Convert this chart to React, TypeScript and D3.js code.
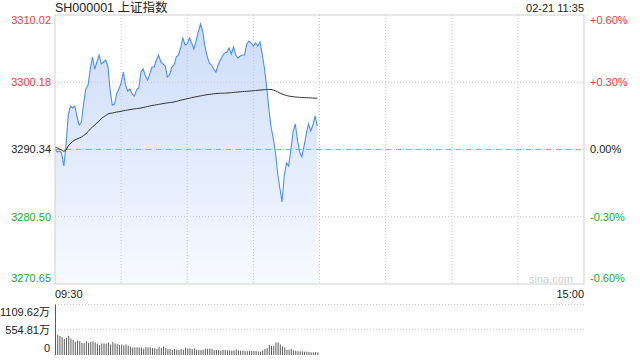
import React from "react";
import * as d3 from "d3";

const title = "SH000001 上证指数";
const stamp = "02-21 11:35";
const prevClose = 3290.34;
const priceTicks = [3310.02, 3300.18, 3290.34, 3280.5, 3270.65];
const pctTicks = ["+0.60%", "+0.30%", "0.00%", "-0.30%", "-0.60%"];
const timeLabels = ["09:30", "15:00"];
const volTicks = [1109.62, 554.81, 0];
const volLabels = ["1109.62万", "554.81万", "0"];

const price = [
  3290.41, 3289.97, 3290.12, 3289.82, 3287.92, 3290.99, 3295.38, 3296.7, 3296.41, 3296.7,
  3295.09, 3293.92, 3294.36, 3297.14, 3299.19, 3299.77, 3302.12, 3303.87, 3302.12, 3303.14,
  3304.17, 3302.85, 3303.14, 3303.43, 3302.56, 3299.04, 3296.85, 3296.99, 3298.46, 3299.19,
  3300.07, 3301.68, 3299.77, 3298.9, 3299.19, 3298.46, 3298.16, 3299.04, 3299.34, 3301.68,
  3302.12, 3301.09, 3300.51, 3301.38, 3302.41, 3302.41, 3303.43, 3304.17, 3303.14, 3302.85,
  3302.56, 3300.95, 3301.24, 3302.41, 3302.7, 3303.87, 3304.17, 3305.19, 3306.65, 3305.63,
  3305.78, 3306.65, 3305.92, 3305.04, 3306.21, 3307.53, 3308.7, 3307.68, 3305.48, 3304.02,
  3302.99, 3302.7, 3302.12, 3301.68, 3302.7, 3303.43, 3304.02, 3304.46, 3304.6, 3305.19,
  3304.31, 3305.34, 3304.17, 3303.73, 3304.02, 3304.17, 3304.17, 3305.78, 3306.21, 3305.92,
  3305.48, 3305.92, 3305.48, 3306.07, 3304.31, 3302.26, 3299.63, 3296.41, 3293.63, 3292.02,
  3289.97, 3286.9, 3284.7, 3282.65, 3286.46, 3288.36, 3287.92, 3290.26, 3292.9, 3294.07,
  3291.72, 3289.97, 3289.24, 3290.85, 3292.6, 3294.07, 3293.04, 3293.92, 3295.24, 3293.77,
];

const avgPrice = [
  3290.7, 3290.55, 3290.41, 3290.26, 3290.04, 3290.26, 3290.85, 3291.21, 3291.51, 3291.72,
  3291.87, 3292.02, 3292.16, 3292.38, 3292.6, 3292.97, 3293.33, 3293.63, 3293.92, 3294.21,
  3294.51, 3294.87, 3295.09, 3295.31, 3295.53, 3295.63, 3295.68, 3295.75, 3295.82, 3295.87,
  3295.93, 3296.0, 3296.06, 3296.12, 3296.17, 3296.23, 3296.28, 3296.32, 3296.36, 3296.41,
  3296.48, 3296.55, 3296.63, 3296.7, 3296.77, 3296.82, 3296.88, 3296.94, 3296.99, 3297.05,
  3297.11, 3297.15, 3297.2, 3297.24, 3297.3, 3297.37, 3297.46, 3297.55, 3297.62, 3297.7,
  3297.77, 3297.84, 3297.92, 3297.99, 3298.06, 3298.12, 3298.18, 3298.24, 3298.3, 3298.36,
  3298.4, 3298.44, 3298.49, 3298.52, 3298.55, 3298.56, 3298.57, 3298.59, 3298.6, 3298.63,
  3298.66, 3298.69, 3298.72, 3298.75, 3298.78, 3298.81, 3298.84, 3298.85, 3298.88, 3298.91,
  3298.94, 3298.97, 3299.0, 3299.03, 3299.06, 3299.09, 3299.12, 3299.13, 3299.12, 3299.04,
  3298.93, 3298.78, 3298.6, 3298.46, 3298.34, 3298.24, 3298.16, 3298.11, 3298.06, 3298.03,
  3298.0, 3297.97, 3297.95, 3297.93, 3297.92, 3297.9, 3297.89, 3297.87, 3297.86, 3297.84,
];

const volume = [
  1109.62, 442, 421, 392, 348, 377, 421, 363, 334, 290,
  319, 305, 261, 261, 297, 261, 283, 297, 276, 247,
  218, 254, 254, 254, 276, 232, 283, 254, 239, 218,
  232, 210, 232, 203, 181, 167, 167, 167, 167, 167,
  138, 174, 167, 167, 152, 145, 131, 174, 152, 189,
  152, 131, 131, 116, 131, 116, 116, 131,
  116, 160, 145, 145, 131, 145, 116, 109, 109,
  116, 138, 131, 138, 138, 109, 109, 109, 94,
  109, 109, 102, 102, 94, 102, 116, 94, 94, 102,
  87, 87, 87, 87, 87, 87, 80,
  73, 102, 131, 152, 225, 203, 196, 276, 276, 232,
  189, 167, 116, 116, 131, 102, 94, 80, 80, 80,
  73, 73, 65, 58, 58, 65, 58,
];

const W = 640;
const H = 360;
const L = 55;
const R = 584;
const T = 15;
const B = 284;
const VT = 304.5;
const VB = 355;

const RED = "#f23b3b";
const GREEN = "#1fa81f";
const FONT = "'Liberation Sans', Arial, 'Noto Sans CJK SC', sans-serif";

export default function App() {
  const x = d3.scaleLinear().domain([0, 240]).range([L, R]);
  const y = d3.scaleLinear().domain([priceTicks[4], priceTicks[0]]).range([B, T]);
  const vy = d3.scaleLinear().domain([0, volTicks[0]]).range([VB, VT]);

  const line = d3
    .line<number>()
    .x((_, i) => x(i))
    .y((d) => y(d));
  const area = d3
    .area<number>()
    .x((_, i) => x(i))
    .y0(B)
    .y1((d) => y(d));

  const vGrid = d3.range(30, 240, 30);
  const colorFor = (v: number) =>
    Math.abs(v - prevClose) < 0.001 ? "#222" : v > prevClose ? RED : GREEN;
  const labelY = (i: number, v: number) =>
    i === 0 ? y(v) + 8.5 : i === priceTicks.length - 1 ? y(v) - 2 : y(v) + 4;

  return (
    <svg
      width={W}
      height={H}
      style={{ position: "absolute", left: 0, top: 0, background: "#fff" }}
      fontFamily={FONT}
    >
      <defs>
        <linearGradient id="fillg" gradientUnits="userSpaceOnUse" x1="0" y1={T} x2="0" y2={B}>
          <stop offset="0" stopColor="#cbdbf8" />
          <stop offset="1" stopColor="#f7faff" />
        </linearGradient>
      </defs>

      <text x={L} y={12} fontSize={12.5} fill="#222">
        {title}
      </text>
      <text x={R} y={11.5} fontSize={11} fill="#222" textAnchor="end">
        {stamp}
      </text>

      <path d={area(price) || ""} fill="url(#fillg)" />

      {vGrid.map((t) => (
        <line
          key={"vg" + t}
          x1={x(t)}
          x2={x(t)}
          y1={T}
          y2={B}
          stroke="#c8c8c8"
          strokeDasharray="1,2"
        />
      ))}
      {priceTicks.slice(1, 4).map((p) => (
        <line
          key={"hg" + p}
          x1={L}
          x2={R}
          y1={y(p)}
          y2={y(p)}
          stroke="#c8c8c8"
          strokeDasharray="1,2"
        />
      ))}
      <line
        x1={L}
        x2={R}
        y1={y(prevClose)}
        y2={y(prevClose)}
        stroke="#e8956a"
        strokeDasharray="5,5"
        strokeDashoffset={-1}
      />

      <path d={line(price) || ""} fill="none" stroke="#4d8ff0" strokeWidth={1.1} />
      <path d={line(avgPrice) || ""} fill="none" stroke="#333" strokeWidth={1} />

      <rect x={L} y={T} width={R - L} height={B - T} fill="none" stroke="#d0d0d0" />

      {priceTicks.map((p, i) => (
        <text
          key={"pl" + p}
          x={L - 4}
          y={labelY(i, p)}
          fontSize={11}
          textAnchor="end"
          fill={colorFor(p)}
        >
          {p.toFixed(2)}
        </text>
      ))}
      {priceTicks.map((p, i) => (
        <text
          key={"pr" + p}
          x={R + 6}
          y={labelY(i, p)}
          fontSize={11}
          fill={colorFor(p)}
        >
          {pctTicks[i]}
        </text>
      ))}

      <text x={573} y={283} fontSize={11} fill="#cfcfcf" textAnchor="end">
        sina.com
      </text>

      <text x={L} y={297.5} fontSize={11} fill="#222">
        {timeLabels[0]}
      </text>
      <text x={R} y={297.5} fontSize={11} fill="#222" textAnchor="end">
        {timeLabels[1]}
      </text>

      {volTicks.slice(0, 2).map((v) => (
        <line
          key={"vgl" + v}
          x1={L}
          x2={R}
          y1={vy(v)}
          y2={vy(v)}
          stroke="#c8c8c8"
          strokeDasharray="1,2"
        />
      ))}
      {volume.map((v, i) => (
        <rect
          key={"vb" + i}
          x={x(i)}
          y={vy(v)}
          width={1}
          height={VB - vy(v)}
          fill="#5a5a5a"
        />
      ))}
      {volTicks.map((v, i) => (
        <text
          key={"vl" + v}
          x={L - 5}
          y={i === 0 ? vy(v) + 11 : i === 2 ? vy(v) - 3 : vy(v) + 4}
          fontSize={11}
          textAnchor="end"
          fill="#222"
        >
          {volLabels[i]}
        </text>
      ))}
    </svg>
  );
}
